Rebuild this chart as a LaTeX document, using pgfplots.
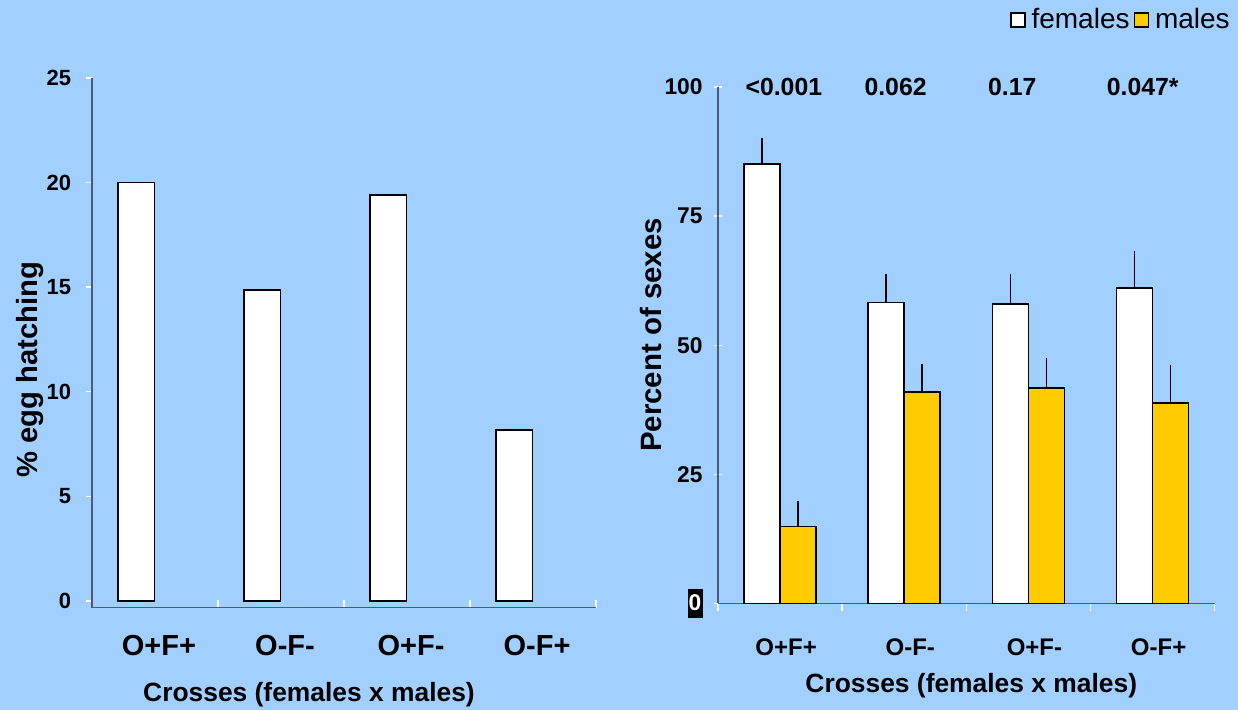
\documentclass[border=0pt]{standalone}
\usepackage{pgfplots}
\pgfplotsset{compat=1.18}
\usepackage{fontspec}
\setmainfont{Liberation Sans}
\definecolor{bgblue}{RGB}{161,207,255}
\definecolor{gold}{RGB}{255,204,0}
\definecolor{axgray}{RGB}{80,90,110}
\newcommand{\fs}[1]{\fontsize{#1}{#1}\selectfont}
\newcommand{\zerobox}{{\setlength{\fboxsep}{0.6pt}\colorbox{black}{\rule[-3pt]{0pt}{13pt}\textcolor{white}{0}}}}
\pgfplotsset{
  sqlegend/.style={legend image code/.code={\draw[##1, line width=0.7pt] (0pt,-3.5pt) rectangle (7pt,3.5pt);}},
}
\begin{document}
\begin{tikzpicture}
\fill[bgblue] (0,0) rectangle (619pt,355pt);
\path[use as bounding box] (0,0) rectangle (619pt,355pt);

% ---------------- left chart ----------------
\begin{axis}[
  at={(46pt,51.15pt)}, anchor=south west,
  scale only axis, width=252pt, height=264.85pt,
  xmin=-0.5, xmax=3.5, ymin=-0.32, ymax=25,
  axis x line*=bottom, axis y line*=left,
  axis line style={axgray, line width=0.8pt},
  xtick={0,1,2,3}, xticklabels={O+F+,O-F-,O+F-,O-F+},
  minor xtick={0.5,1.5,2.5,3.5},
  ytick={0,5,10,15,20,25},
  major x tick style={draw=none},
  tick style={white, line width=0.7pt},
  major tick length=3pt, minor tick length=4pt,
  xtick align=inside, ytick align=outside,
  /pgf/number format/assume math mode=true,
  yticklabel style={font=\bfseries\fs{11}, anchor=east, inner sep=0pt, xshift=-7.3pt},
  xticklabel style={font=\bfseries\fs{14.5}, anchor=base, yshift=-23.7pt, xshift=2pt},
  xlabel={Crosses (females x males)},
  xlabel style={font=\bfseries\fs{13.2}, at={([yshift=-46.7pt]axis description cs:0.4306,0)}, anchor=base},
  ylabel={\% egg hatching},
  ylabel style={font=\bfseries\fs{14.6}, at={([xshift=-27.5pt]axis description cs:0,0.449)}, anchor=base},
]
\addplot[ybar, bar width=0.29, bar shift=-0.15, fill=white, draw=black, line width=0.8pt]
  coordinates {(0,20.0) (1,14.87) (2,19.4) (3,8.17)};
\end{axis}

% ---------------- right chart ----------------
\begin{axis}[
  at={(359pt,53.25pt)}, anchor=south west,
  scale only axis, width=248.35pt, height=258.25pt,
  xmin=-0.5, xmax=3.5, ymin=0, ymax=100,
  clip=false,
  axis x line*=bottom, axis y line*=left,
  axis line style={axgray, line width=0.8pt},
  xtick={0,1,2,3}, xticklabels={O+F+,O-F-,O+F-,O-F+},
  minor xtick={-0.5,0.5,1.5,2.5,3.5},
  ytick={0,25,50,75,100}, yticklabels={{\zerobox},25,50,75,100},
  major x tick style={draw=none},
  tick style={white, line width=0.7pt},
  major tick length=4pt, minor tick length=4pt,
  xtick align=outside, ytick align=center,
  /pgf/number format/assume math mode=true,
  yticklabel style={font=\bfseries\fs{11.4}, anchor=east, inner sep=0pt, xshift=-5.5pt},
  xticklabel style={font=\bfseries\fs{12}, anchor=base, yshift=-22pt, xshift=3pt},
  xlabel={Crosses (females x males)},
  xlabel style={font=\bfseries\fs{13.2}, at={([yshift=-44.3pt]axis description cs:0.510,0)}, anchor=base},
  ylabel={Percent of sexes},
  ylabel style={font=\bfseries\fs{14.7}, at={([xshift=-28.5pt]axis description cs:0,0.52)}, anchor=base},
  legend style={at={(axis description cs:1.031,1.130)}, anchor=east, draw=none, fill=none,
    legend columns=-1, font=\fs{14}, inner sep=0pt, nodes={inner sep=0pt},
    /tikz/every odd column/.append style={column sep=3pt},
    /tikz/every even column/.append style={column sep=2pt}},
]
\addplot[ybar, bar width=0.29, bar shift=0, fill=white, draw=black, line width=0.8pt, sqlegend,
  error bars/.cd, y dir=plus, y explicit, error mark=none, error bar style={black, line width=0.8pt}]
  coordinates {(-0.145,85.1) +- (0,5.0) (0.855,58.3) +- (0,5.5) (1.855,58.0) +- (0,5.8) (2.855,61.1) +- (0,7.1)};
\addlegendentry{females}
\addplot[ybar, bar width=0.29, bar shift=0, fill=gold, draw=black, line width=0.8pt, sqlegend,
  error bars/.cd, y dir=plus, y explicit, error mark=none, error bar style={black, line width=0.8pt}]
  coordinates {(0.145,14.9) +- (0,5.0) (1.145,41.0) +- (0,5.4) (2.145,41.7) +- (0,5.9) (3.145,38.8) +- (0,7.4)};
\addlegendentry{males}
\node[font=\bfseries\fs{12.4}] at (axis cs:0.03,100) {<0.001};
\node[font=\bfseries\fs{12.4}] at (axis cs:0.93,100) {0.062};
\node[font=\bfseries\fs{12.4}] at (axis cs:1.87,100) {0.17};
\node[font=\bfseries\fs{12.4}] at (axis cs:2.92,100) {0.047*};
\end{axis}
\end{tikzpicture}
\end{document}
